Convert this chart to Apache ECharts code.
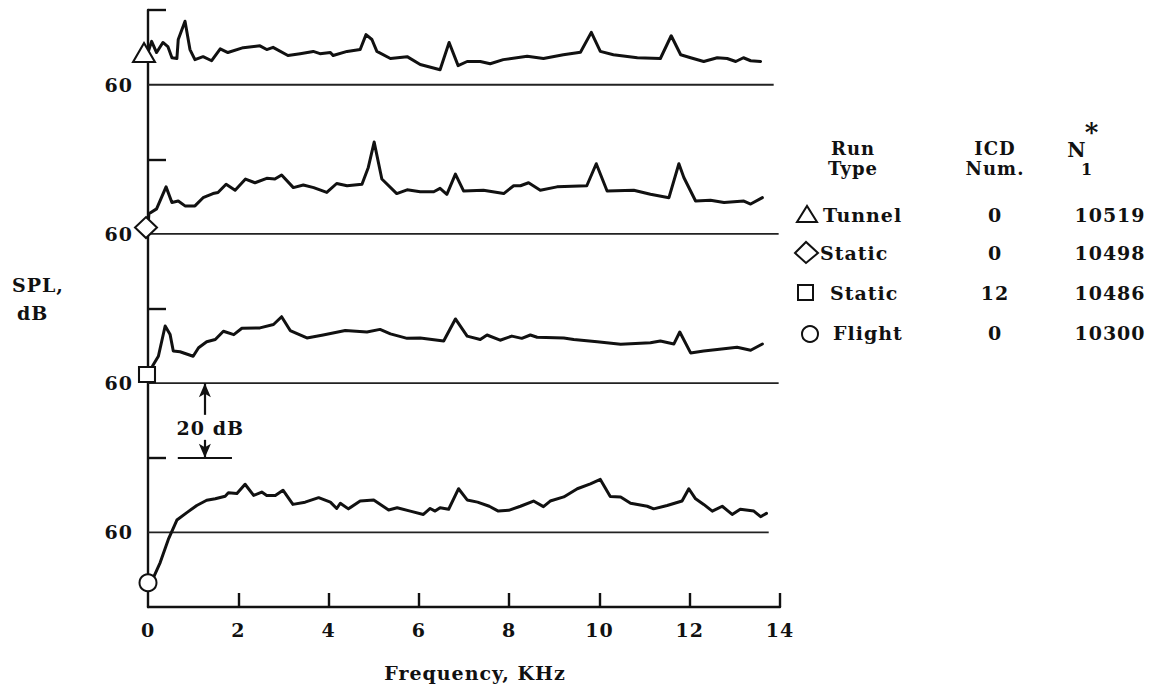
<!DOCTYPE html>
<html>
<head>
<meta charset="utf-8">
<script src="https://cdn.jsdelivr.net/npm/echarts@6/dist/echarts.min.js"></script>
<style>
  html, body { margin: 0; padding: 0; background: #fff; }
  #chart { width: 1161px; height: 692px; }
  #chart text { letter-spacing: 1px; }
</style>
</head>
<body>
<div id="chart"></div>
<script>
// ---------------- data ----------------
const xTickValues = [0, 2, 4, 6, 8, 10, 12, 14];          // kHz
const yTickValues = [80, 120, 160, 200];                   // stacked-axis tick values (80 dB of each panel)
const yLabelValues = [60, 100, 140, 180];                  // stacked-axis positions of each panel's 60 dB
const yLabelText = ['60', '60', '60', '60'];
const panelOffset = [120, 80, 40, 0];                      // Tunnel, Static(0), Static(12), Flight
const baselineSPL = 60;
const baselineEnd = [13.86, 13.97, 13.97, 13.75];          // kHz where each 60 dB line ends

const tunnelF = [0,0.08,0.19,0.33,0.44,0.53,0.64,0.67,0.82,0.93,1.04,1.22,1.41,1.60,1.77,2.11,2.48,2.63,2.77,3.10,3.37,3.66,3.81,4.04,4.10,4.41,4.70,4.83,4.96,5.07,5.37,5.74,6.03,6.47,6.67,6.87,7.07,7.36,7.58,7.87,8.40,8.76,9.20,9.58,9.82,10.02,10.31,10.84,11.35,11.59,11.80,12.02,12.31,12.61,12.83,13.02,13.19,13.35,13.57];
const tunnelSPL = [68.6,71.6,68.6,71.3,70.2,67.2,67.0,72.1,77.0,69.4,66.7,67.5,66.4,69.6,68.6,69.9,70.4,69.4,70.0,67.8,68.3,68.9,68.3,68.6,67.8,68.9,69.4,73.4,72.1,68.9,67.0,67.5,65.4,64.0,71.3,65.1,66.2,66.2,65.6,66.7,67.6,67.0,68.0,68.7,74.0,68.9,68.0,67.2,67.0,73.1,68.0,67.2,66.2,67.2,67.0,66.2,67.2,66.4,66.2];

const static0F = [0,0.02,0.19,0.40,0.53,0.67,0.82,1.04,1.22,1.44,1.55,1.73,1.93,2.16,2.37,2.63,2.81,2.96,3.22,3.44,3.67,3.96,4.18,4.41,4.74,4.88,5.01,5.18,5.51,5.74,6.03,6.33,6.47,6.62,6.81,6.99,7.43,7.88,8.10,8.25,8.43,8.69,9.06,9.72,9.93,10.17,10.76,11.13,11.54,11.76,11.87,12.13,12.46,12.76,13.20,13.35,13.61];
const static0SPL = [61.7,65.4,66.7,72.6,68.4,68.8,67.5,67.5,69.7,70.8,71.1,73.3,71.7,74.7,73.7,74.9,74.7,75.8,72.4,73.1,72.4,71.1,73.5,72.9,73.3,77.8,84.6,74.7,70.8,71.8,71.3,71.3,72.2,70.6,76.0,71.5,71.7,70.8,72.9,72.9,73.7,71.7,72.6,72.9,78.8,71.5,71.7,70.6,69.7,78.8,75.1,68.8,69.0,68.4,68.8,68.0,69.7];

const static12F = [0,0.12,0.23,0.38,0.49,0.56,0.71,1.00,1.12,1.30,1.49,1.67,1.90,2.08,2.48,2.78,2.96,3.15,3.52,3.88,4.37,4.85,5.14,5.37,5.74,6.03,6.55,6.81,7.07,7.36,7.51,7.80,8.06,8.28,8.47,8.62,9.21,9.43,9.95,10.47,11.13,11.35,11.65,11.78,12.02,12.31,12.61,13.05,13.35,13.61];
const static12SPL = [62.3,65.0,67.2,75.3,73.0,68.6,68.4,67.2,69.5,71.1,71.7,73.9,73.0,74.7,74.8,75.7,77.8,74.1,72.1,72.9,74.1,73.7,74.4,73.2,72.0,72.1,71.3,77.2,72.6,71.7,72.9,71.5,72.6,72.0,72.9,72.3,72.1,71.7,71.1,70.4,70.8,71.3,70.5,73.7,68.1,68.6,69.0,69.6,68.8,70.5];

const flightF = [0,0.12,0.27,0.45,0.64,0.86,1.08,1.30,1.49,1.71,1.78,1.97,2.15,2.34,2.52,2.63,2.82,2.99,3.21,3.48,3.78,4.04,4.18,4.26,4.44,4.70,5.00,5.33,5.52,5.81,6.10,6.25,6.36,6.47,6.66,6.88,7.07,7.30,7.56,7.76,7.99,8.25,8.54,8.76,8.91,9.21,9.51,9.80,10.02,10.24,10.47,10.69,11.06,11.20,11.50,11.83,11.98,12.13,12.31,12.50,12.72,12.94,13.12,13.42,13.57,13.70];
const flightSPL = [46.5,47.9,51.9,58.1,63.3,65.3,67.2,68.6,69.0,69.7,70.6,70.4,72.9,69.9,70.8,69.9,69.9,71.3,67.5,68.1,69.3,68.1,66.4,67.8,66.3,68.4,68.7,66.0,66.6,65.7,64.8,66.4,65.7,66.6,66.2,71.7,68.7,68.1,67.0,65.7,65.9,67.0,68.4,66.9,68.4,69.5,71.7,73.0,74.2,69.6,69.5,67.8,67.0,66.3,67.2,68.4,71.7,69.0,67.5,65.7,67.0,64.8,66.2,65.7,64.2,65.1];

// legend table
const runTypes = ['Tunnel', 'Static', 'Static', 'Flight'];
const icdNums = ['0', '0', '12', '0'];
const n1Values = ['10519', '10498', '10486', '10300'];

// 20 dB scale annotation (in Flight/Static-12 panel units)
const annotFreq = 1.26;
const annotTop = 100, annotBottom = 80;

// ---------------- chart ----------------
const FONT = "'DejaVu Serif', serif";
const INK = '#111';
const curveF = [tunnelF, static0F, static12F, flightF];
const curveS = [tunnelSPL, static0SPL, static12SPL, flightSPL];
const markerShape = ['triangle', 'diamond', 'rect', 'circle'];
const markerSize = [[22, 19], [22, 21], [16, 15], [17, 17]];
const markerOffset = [[-4, 0], [-2, 0], [-1, 0], [0, 0]];

const series = [];
for (let i = 0; i < 4; i++) {
  const off = panelOffset[i];
  series.push({
    type: 'line',
    silent: true,
    data: [[0, baselineSPL + off], [baselineEnd[i], baselineSPL + off]],
    symbol: 'none',
    lineStyle: { color: '#222', width: i === 0 ? 2 : 1.6 },
    z: 1
  });
}
for (let i = 0; i < 4; i++) {
  const off = panelOffset[i];
  const data = curveF[i].map((f, k) => [f, curveS[i][k] + off]);
  series.push({
    type: 'line',
    silent: true,
    data: data,
    showSymbol: true,
    showAllSymbol: true,
    symbol: (v, p) => p.dataIndex === 0 ? markerShape[i] : 'none',
    symbolSize: markerSize[i],
    symbolOffset: markerOffset[i],
    itemStyle: { color: '#fff', borderColor: INK, borderWidth: 2 },
    lineStyle: { color: INK, width: 3, join: 'round', cap: 'round' },
    z: 3
  });
}
// annotation series
series.push({
  type: 'line',
  silent: true,
  data: [],
  markLine: {
    silent: true,
    animation: false,
    symbol: 'none',
    lineStyle: { color: INK, width: 2.2, type: 'solid' },
    label: { show: false },
    emphasis: { disabled: true },
    data: [
      [{ coord: [annotFreq, annotTop - 8.5], symbol: 'none' }, { coord: [annotFreq, annotTop], symbol: 'arrow', symbolSize: [9, 14] }],
      [{ coord: [annotFreq, annotBottom + 4.8], symbol: 'none' }, { coord: [annotFreq, annotBottom], symbol: 'arrow', symbolSize: [9, 14] }],
      [{ coord: [0.66, annotBottom], symbol: 'none', lineStyle: { width: 1.8 } }, { coord: [1.86, annotBottom], symbol: 'none' }]
    ]
  },
  markPoint: {
    silent: true,
    animation: false,
    symbol: 'rect',
    symbolSize: 1,
    itemStyle: { color: 'rgba(0,0,0,0)' },
    label: { show: true, position: 'inside', formatter: '20 dB', color: INK, fontFamily: FONT, fontSize: 19, fontWeight: 'bold' },
    data: [{ coord: [annotFreq + 0.12, (annotTop + annotBottom) / 2 - 1.9] }]
  }
});

// legend table graphics
const g = [];
const txt = (text, x, y, align, size) => ({
  type: 'text', silent: true, x: x, y: y,
  style: { text: text, fill: INK, font: `bold ${size || 19}px ${FONT}`, textAlign: align || 'left', textVerticalAlign: 'middle' }
});
g.push(txt('SPL,', 12, 285, 'left'));
g.push(txt('dB', 17, 313, 'left'));
g.push(txt('Run', 853, 148, 'center', 18));
g.push(txt('Type', 853, 168, 'center', 18));
g.push(txt('ICD', 995, 148, 'center', 18));
g.push(txt('Num.', 995, 168, 'center', 18));
g.push(txt('N', 1077, 150, 'center', 20));
g.push(txt('*', 1092, 132, 'center', 26));
g.push(txt('1', 1087, 169, 'center', 16));
const rowY = [215, 253, 293, 333];
const nameX = [823, 820, 830, 833];
for (let i = 0; i < 4; i++) {
  g.push(txt(runTypes[i], nameX[i], rowY[i], 'left'));
  g.push(txt(icdNums[i], 995, rowY[i], 'center'));
  g.push(txt(n1Values[i], 1110, rowY[i], 'center'));
}
const stroke = { fill: 'none', stroke: INK, lineWidth: 2 };
g.push({ type: 'polygon', silent: true, shape: { points: [[797, 222], [817, 222], [807, 206]] }, style: stroke });
g.push({ type: 'polygon', silent: true, shape: { points: [[795, 253], [806, 242], [818, 253], [806, 263]] }, style: stroke });
g.push({ type: 'rect', silent: true, shape: { x: 798, y: 285, width: 15, height: 15 }, style: stroke });
g.push({ type: 'circle', silent: true, shape: { cx: 810, cy: 334, r: 8 }, style: stroke });

const chart = echarts.init(document.getElementById('chart'), null, { renderer: 'svg' });
chart.setOption({
  animation: false,
  backgroundColor: '#fff',
  textStyle: { fontFamily: FONT },
  grid: { left: 148, right: 381, top: 10, bottom: 85, containLabel: false },
  xAxis: {
    type: 'value', min: 0, max: 14, interval: 2,
    axisLine: { onZero: false, lineStyle: { color: INK, width: 2.4 } },
    axisTick: { inside: true, length: 14, customValues: xTickValues.filter(v => v > 0), lineStyle: { color: INK, width: 2.4 } },
    axisLabel: { margin: 13, color: INK, fontFamily: FONT, fontSize: 19, fontWeight: 'bold', customValues: xTickValues },
    splitLine: { show: false },
    name: 'Frequency, KHz', nameLocation: 'middle', nameGap: 56,
    nameTextStyle: { color: INK, fontFamily: FONT, fontSize: 19, fontWeight: 'bold', padding: [0, 0, 0, 22] }
  },
  yAxis: {
    type: 'value', min: 40, max: 200, interval: 20,
    axisLine: { show: true, onZero: false, lineStyle: { color: INK, width: 2.4 } },
    axisTick: { show: true, inside: true, length: 18, customValues: yTickValues, lineStyle: { color: INK, width: 2.4 } },
    axisLabel: {
      show: true, margin: 15, color: INK, fontFamily: FONT, fontSize: 19, fontWeight: 'bold',
      customValues: yLabelValues,
      formatter: v => { const k = yLabelValues.indexOf(v); return k >= 0 ? yLabelText[k] : ''; }
    },
    splitLine: { show: false }
  },
  graphic: g,
  series: series
});
</script>
</body>
</html>
